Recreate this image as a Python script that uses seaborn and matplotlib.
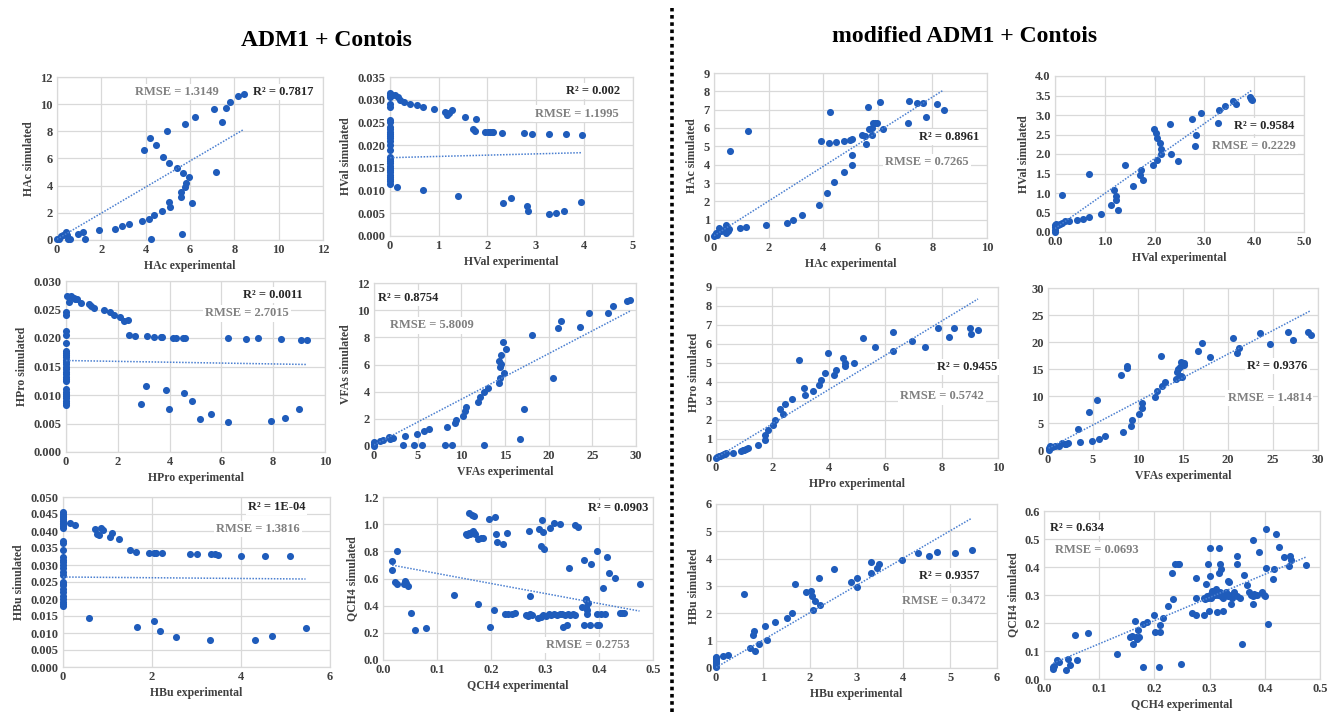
import numpy as np
import pandas as pd
import seaborn as sns
import matplotlib.pyplot as plt
from matplotlib.lines import Line2D
from matplotlib.ticker import FormatStrFormatter

# ---------------- data ----------------
# ADM1 + Contois (left block)
hac_exp_adm = [0.0, 0.1, 0.2, 0.25, 0.4, 0.45, 0.5, 0.6, 0.93, 1.17, 1.28, 1.91, 2.63, 2.92, 3.26, 3.82,
               4.15, 4.38, 4.75, 5.08, 5.07, 6.08, 5.58, 5.58, 5.76, 5.83, 5.95, 5.68, 7.17, 5.43, 5.07,
               4.78, 3.91, 4.45, 4.18, 4.98, 5.79, 7.43, 6.21, 7.10, 7.64, 7.82, 8.18, 8.42, 4.24, 5.64]
hac_sim_adm = [0.1, 0.1, 0.3, 0.35, 0.6, 0.4, 0.1, 0.1, 0.44, 0.57, 0.07, 0.74, 0.84, 1.0, 1.18, 1.40,
               1.57, 1.87, 2.16, 2.46, 2.80, 2.70, 3.20, 3.57, 3.93, 4.23, 4.62, 4.94, 4.99, 5.29, 5.70,
               6.12, 6.59, 7.03, 7.52, 8.02, 8.53, 8.70, 9.07, 9.61, 9.69, 10.16, 10.62, 10.72, 0.07, 0.47]

hval_exp_adm = [0.0, 0.0, 0.0, 0.0, 0.0, 0.0, 0.0, 0.0, 0.0, 0.0, 0.0, 0.0, 0.0, 0.0, 0.0,
                0.0, 0.0, 0.0, 0.0, 0.0, 0.0, 0.0, 0.0, 0.0, 0.0, 0.0, 0.0, 0.0, 0.0,
                0.05, 0.10, 0.17, 0.21, 0.29, 0.42, 0.56, 0.68, 0.91, 1.13, 1.18, 1.22, 1.27, 1.55,
                1.76, 1.71, 1.74, 1.95, 2.02, 2.05, 2.09, 2.12, 2.31, 2.75, 2.93, 3.27, 3.63, 3.95,
                0.15, 0.68, 1.40, 2.32, 2.48, 2.81, 2.84, 3.27, 3.41, 3.58, 3.92]
hval_sim_adm = [0.0315, 0.031, 0.0305, 0.029, 0.0285, 0.0255, 0.025, 0.024, 0.0235, 0.023, 0.0225,
                0.022, 0.0215, 0.021, 0.020, 0.019, 0.0175, 0.017, 0.0165, 0.016, 0.0155, 0.015,
                0.0145, 0.014, 0.0135, 0.013, 0.0125, 0.012, 0.0115,
                0.0310, 0.0311, 0.0306, 0.0299, 0.0295, 0.0291, 0.0289, 0.0284, 0.0280, 0.0274, 0.0267,
                0.0271, 0.0278, 0.0262, 0.0258, 0.0235, 0.0231, 0.0230, 0.0230, 0.0230, 0.0230, 0.0230,
                0.0227, 0.0227, 0.0225, 0.0225, 0.0224, 0.0223,
                0.0107, 0.0101, 0.0089, 0.0073, 0.0084, 0.0065, 0.0055, 0.0049, 0.0050, 0.0056, 0.0074]

hpro_exp_adm = [0.0, 0.0, 0.0, 0.0, 0.0, 0.0, 0.0, 0.0, 0.0, 0.0, 0.0, 0.0, 0.0, 0.0,
                0.0, 0.0, 0.0, 0.0, 0.0, 0.0, 0.0, 0.0, 0.0, 0.0, 0.0, 0.0, 0.0,
                0.04, 0.10, 0.19, 0.30, 0.36, 0.42, 0.58, 0.87, 0.96, 1.07, 1.48, 1.71, 1.86, 2.07,
                2.25, 2.38, 2.44, 2.66, 3.14, 3.39, 3.68, 3.71, 4.15, 4.24, 4.50, 4.60, 6.27, 6.95,
                7.40, 8.30, 9.07, 9.29,
                2.90, 3.10, 3.86, 3.96, 4.56, 4.88, 5.19, 5.59, 6.27, 7.90, 8.46, 9.00]
hpro_sim_adm = [0.0245, 0.024, 0.0212, 0.0205, 0.0192, 0.0178, 0.0174, 0.0170, 0.0166, 0.0162,
                0.0158, 0.0154, 0.0150, 0.0145, 0.0140, 0.0136, 0.0132, 0.0128, 0.0124, 0.0110,
                0.0106, 0.0102, 0.0098, 0.0094, 0.0090, 0.0086, 0.0082,
                0.0274, 0.0264, 0.0273, 0.0271, 0.0269, 0.0268, 0.0261, 0.0259, 0.0257, 0.0253,
                0.0249, 0.0246, 0.0240, 0.0237, 0.0230, 0.0232, 0.0206, 0.0204, 0.0203, 0.0202,
                0.0201, 0.0201, 0.0200, 0.0200, 0.0200, 0.0200, 0.0200, 0.0199, 0.0200, 0.0198,
                0.0197, 0.0197,
                0.0085, 0.0116, 0.0108, 0.0075, 0.0103, 0.0090, 0.0058, 0.0067, 0.0052, 0.0054,
                0.0060, 0.0076]

vfa_exp_adm = [0.0, 0.0, 0.05, 0.65, 1.04, 1.69, 1.88, 2.12, 3.50, 3.27, 4.58, 4.96, 5.46, 5.77,
               6.35, 8.15, 8.35, 8.92, 9.27, 9.38, 10.15, 10.46, 10.50, 11.96, 12.19, 12.65, 13.00,
               12.65, 14.35, 14.46, 14.92, 14.38, 14.50, 14.54, 14.31, 15.12, 14.81, 16.69, 17.12,
               18.04, 20.54, 21.04, 21.38, 23.62, 24.65, 26.85, 27.35, 29.00, 29.30]
vfa_sim_adm = [0.15, 0.30, 0.02, 0.39, 0.47, 0.69, 0.52, 0.61, 0.76, 0.07, 0.07, 0.91, 0.07, 1.08,
               1.25, 0.07, 1.43, 0.07, 1.67, 1.92, 2.19, 2.58, 2.90, 3.22, 3.64, 3.98, 4.30, 0.07,
               4.65, 4.97, 5.38, 5.80, 6.02, 6.69, 6.25, 7.16, 7.65, 0.49, 2.70, 8.14, 5.02, 8.66,
               9.17, 8.78, 9.76, 9.76, 10.30, 10.65, 10.78]

hbu_exp_adm = [0.0, 0.0, 0.0, 0.0, 0.0, 0.0, 0.0, 0.0, 0.0, 0.0, 0.0, 0.0, 0.0, 0.0, 0.0,
               0.0, 0.0, 0.0, 0.0, 0.0, 0.0, 0.0, 0.0, 0.0, 0.0, 0.0, 0.0, 0.0, 0.0, 0.0,
               0.15, 0.27, 0.73, 0.77, 0.82, 0.85, 0.90, 1.06, 1.09, 1.26, 1.50, 1.63, 1.93, 2.04,
               2.10, 2.23, 2.86, 3.02, 3.32, 3.42, 3.49, 3.99, 4.55, 5.11,
               0.58, 1.67, 2.04, 2.19, 2.53, 3.31, 4.31, 4.70, 5.45]
hbu_sim_adm = [0.0455, 0.045, 0.0445, 0.044, 0.0435, 0.043, 0.0425, 0.042, 0.0415, 0.041, 0.037,
               0.0365, 0.0345, 0.0325, 0.0315, 0.031, 0.030, 0.029, 0.028, 0.027, 0.025, 0.0245,
               0.024, 0.023, 0.022, 0.021, 0.020, 0.019, 0.0185, 0.018,
               0.0424, 0.0417, 0.0405, 0.0392, 0.0387, 0.0410, 0.0404, 0.0382, 0.0395, 0.0377,
               0.0343, 0.0338, 0.0334, 0.0334, 0.0335, 0.0335, 0.0332, 0.0332, 0.0331, 0.0331,
               0.0330, 0.0327, 0.0327, 0.0326,
               0.0144, 0.0118, 0.0134, 0.0105, 0.0089, 0.0079, 0.0080, 0.0091, 0.0116]

qch4_exp_adm = [0.017, 0.017, 0.025, 0.023, 0.026, 0.038, 0.041, 0.043, 0.046, 0.052, 0.059, 0.079, 0.131,
                0.153, 0.156, 0.159, 0.162, 0.164, 0.166, 0.168, 0.171, 0.159, 0.164, 0.168, 0.176,
                0.182, 0.185, 0.176,
                0.196, 0.199, 0.206, 0.207, 0.210, 0.212, 0.223, 0.230, 0.225, 0.231, 0.238, 0.244,
                0.271, 0.273, 0.265, 0.268, 0.272, 0.275, 0.289, 0.292, 0.298, 0.294, 0.297,
                0.287, 0.292, 0.297, 0.302, 0.307, 0.312, 0.317, 0.322, 0.327, 0.332, 0.337, 0.342,
                0.347, 0.352, 0.355,
                0.310, 0.317, 0.328, 0.333, 0.340, 0.344, 0.356, 0.362, 0.373, 0.375, 0.376, 0.376,
                0.377, 0.378, 0.373, 0.383, 0.369, 0.380, 0.386, 0.396, 0.400, 0.396, 0.396, 0.403,
                0.412, 0.407, 0.415, 0.419, 0.429, 0.438, 0.443, 0.446, 0.475]
qch4_sim_adm = [0.727, 0.661, 0.803, 0.573, 0.563, 0.558, 0.580, 0.566, 0.544, 0.343, 0.220, 0.233, 0.475,
                0.925, 0.920, 0.935, 0.930, 0.945, 0.950, 0.935, 0.925, 1.080, 1.070, 1.060, 0.890,
                0.900, 0.900, 0.409,
                1.040, 0.245, 0.367, 1.050, 0.930, 0.870, 0.855, 0.935, 0.336, 0.336, 0.336, 0.348,
                0.950, 0.470, 0.330, 0.325, 0.335, 0.330, 0.963, 0.840, 0.820, 1.029, 0.946,
                0.310, 0.320, 0.330, 0.325, 0.335, 0.330, 0.340, 0.330, 0.335, 0.340, 0.330, 0.335,
                0.330, 0.340, 0.330,
                0.972, 1.011, 1.004, 0.245, 0.255, 0.678, 0.997, 0.982, 0.735, 0.450, 0.440, 0.390,
                0.370, 0.340, 0.257, 0.257, 0.387, 0.420, 0.705, 0.257, 0.257, 0.800, 0.336, 0.336,
                0.336, 0.527, 0.760, 0.644, 0.605, 0.343, 0.343, 0.343, 0.556]

# modified ADM1 + Contois (right block)
hac_exp_mod = [0.0, 0.02, 0.09, 0.12, 0.17, 0.24, 0.37, 0.45, 0.45, 0.51, 0.55, 0.60, 0.94, 1.19,
               1.25, 1.92, 2.66, 2.91, 3.23, 3.83, 3.92, 4.15, 4.20, 4.26, 4.38, 4.47, 4.75, 4.76,
               4.99, 5.06, 5.07, 5.07, 5.41, 5.53, 5.58, 5.64, 5.68, 5.78, 5.77, 5.81, 5.90, 5.96,
               6.08, 6.19, 7.09, 7.16, 7.43, 7.64, 7.77, 8.18, 8.41]
hac_sim_mod = [0.09, 0.18, 0.27, 0.18, 0.55, 0.40, 0.42, 0.69, 0.27, 0.36, 0.49, 4.73, 0.55, 0.58,
               5.82, 0.73, 0.82, 0.96, 1.27, 1.78, 5.27, 2.44, 5.18, 6.85, 3.04, 5.22, 3.58, 5.27,
               5.36, 5.40, 4.55, 4.00, 5.64, 5.58, 5.11, 7.15, 5.96, 6.00, 5.64, 6.27, 6.27, 6.27,
               7.40, 5.95, 6.27, 7.49, 7.36, 7.36, 6.62, 7.29, 7.00]

hval_exp_mod = [0.0, 0.0, 0.0, 0.01, 0.03, 0.07, 0.10, 0.15, 0.21, 0.29, 0.15, 0.44, 0.57, 0.68,
                0.68, 0.92, 1.12, 1.19, 1.22, 1.22, 1.27, 1.41, 1.56, 1.71, 1.73, 1.76, 1.97, 1.99,
                2.02, 2.05, 2.04, 2.11, 2.12, 2.12, 2.31, 2.32, 2.47, 2.76, 2.82, 2.84, 2.93, 3.28,
                3.29, 3.42, 3.58, 3.63, 3.92, 3.93, 3.95]
hval_sim_mod = [0.0, 0.06, 0.13, 0.17, 0.21, 0.17, 0.21, 0.24, 0.27, 0.29, 0.95, 0.30, 0.33, 0.39,
                1.49, 0.46, 0.68, 1.08, 0.93, 0.81, 0.57, 1.72, 1.19, 1.47, 1.59, 1.33, 1.72, 2.65,
                2.54, 2.40, 1.85, 2.27, 2.14, 1.99, 2.78, 2.00, 1.81, 2.90, 2.20, 2.50, 3.04, 2.79,
                3.13, 3.24, 3.37, 3.28, 3.47, 3.41, 3.38]

hpro_exp_mod = [0.0, 0.04, 0.09, 0.15, 0.21, 0.27, 0.33, 0.36, 0.60, 0.89, 0.95, 1.00, 1.07, 1.13,
                1.50, 1.72, 1.75, 1.86, 2.03, 2.09, 2.27, 2.39, 2.46, 2.69, 2.94, 3.13, 3.17, 3.43,
                3.67, 3.72, 3.85, 3.97, 4.17, 4.25, 4.51, 4.58, 4.58, 4.89, 5.21, 5.64, 6.27, 6.27,
                6.94, 7.41, 7.88, 8.28, 8.45, 8.99, 9.06, 9.29]
hpro_sim_mod = [0.0, 0.05, 0.09, 0.12, 0.16, 0.19, 0.23, 0.28, 0.26, 0.35, 0.40, 0.44, 0.49, 0.54,
                0.68, 1.19, 0.93, 1.46, 1.75, 2.02, 2.56, 2.32, 2.82, 3.11, 5.14, 3.67, 3.30, 3.53,
                3.82, 4.09, 4.47, 5.53, 4.37, 4.65, 5.28, 5.00, 4.82, 5.00, 6.33, 5.86, 6.63, 5.61,
                6.14, 5.86, 6.84, 6.35, 6.86, 6.82, 6.53, 6.72]

vfa_exp_mod = [0.07, 0.07, 0.19, 0.48, 0.81, 1.19, 1.59, 1.85, 2.04, 2.22, 3.33, 3.52, 4.52, 4.93,
               5.48, 5.67, 6.33, 8.11, 8.30, 8.81, 8.81, 9.19, 9.33, 10.11, 10.44, 10.44, 11.93,
               12.11, 12.59, 12.67, 13.04, 14.26, 14.56, 14.81, 14.33, 14.44, 14.63, 14.81, 14.89,
               15.11, 15.11, 16.70, 17.07, 18.00, 20.52, 21.00, 21.22, 23.52, 24.63, 26.70, 27.22,
               28.89, 29.19]
vfa_sim_mod = [0.0, 0.43, 0.74, 0.62, 0.74, 0.80, 1.24, 1.05, 1.11, 1.24, 3.83, 1.55, 7.11, 1.67,
               9.28, 2.04, 2.60, 13.85, 3.40, 15.58, 15.21, 4.45, 5.57, 6.68, 8.78, 7.73, 9.90,
               10.88, 17.38, 11.87, 12.68, 13.11, 13.48, 13.73, 14.47, 14.97, 15.46, 16.26, 13.54,
               15.65, 16.08, 18.37, 19.79, 17.19, 20.72, 17.93, 18.80, 21.58, 19.60, 21.77, 20.41,
               21.83, 21.34]

hbu_exp_mod = [0.0, 0.0, 0.0, 0.0, 0.0, 0.0, 0.0, 0.0, 0.0, 0.15, 0.26, 0.59, 0.73, 0.79, 0.82,
               0.84, 0.91, 1.05, 1.09, 1.26, 1.51, 1.63, 1.68, 1.93, 2.03, 2.04, 2.07, 2.11, 2.20,
               2.23, 2.52, 2.89, 3.01, 3.02, 3.32, 3.32, 3.43, 3.49, 3.98, 4.32, 4.55, 4.71, 5.11, 5.46]
hbu_sim_mod = [0.02, 0.08, 0.12, 0.18, 0.22, 0.27, 0.32, 0.36, 0.40, 0.43, 0.49, 2.71, 0.73, 1.19,
               1.36, 0.61, 0.88, 1.52, 1.03, 1.68, 1.84, 2.01, 3.06, 2.79, 2.80, 2.63, 2.13, 2.46,
               3.28, 2.29, 3.63, 3.14, 2.96, 3.31, 3.89, 3.49, 3.65, 3.80, 3.95, 4.20, 4.08, 4.26,
               4.20, 4.31]

qch4_exp_mod = [0.017, 0.018, 0.017, 0.024, 0.028, 0.040, 0.044, 0.047, 0.056, 0.060, 0.080, 0.132,
                0.156, 0.159, 0.161, 0.165, 0.167, 0.169, 0.170, 0.173, 0.179, 0.180, 0.186, 0.199,
                0.201, 0.209, 0.211, 0.211, 0.215,
                0.225, 0.231, 0.233, 0.237, 0.242, 0.245, 0.248, 0.269, 0.275, 0.276, 0.275, 0.290,
                0.293, 0.297, 0.299, 0.301, 0.301, 0.304,
                0.314, 0.317, 0.317, 0.318, 0.321, 0.324, 0.333, 0.335, 0.338, 0.350, 0.350, 0.358,
                0.362, 0.367, 0.378, 0.379, 0.389, 0.402, 0.402, 0.406, 0.414, 0.417, 0.420, 0.425,
                0.435, 0.443, 0.446, 0.447, 0.475,
                0.290, 0.292, 0.295, 0.298, 0.300, 0.303, 0.305, 0.308, 0.310, 0.312, 0.315, 0.318,
                0.320, 0.322, 0.325, 0.328, 0.330, 0.333, 0.336, 0.340, 0.345, 0.350, 0.355, 0.372,
                0.375, 0.378, 0.380, 0.383, 0.386, 0.395, 0.398, 0.400]
qch4_sim_mod = [0.037, 0.045, 0.042, 0.067, 0.061, 0.033, 0.072, 0.049, 0.156, 0.069, 0.165, 0.091,
                0.151, 0.154, 0.125, 0.206, 0.149, 0.144, 0.175, 0.149, 0.042, 0.198, 0.203, 0.229,
                0.169, 0.043, 0.194, 0.169, 0.219,
                0.260, 0.380, 0.286, 0.412, 0.411, 0.410, 0.053, 0.234, 0.360, 0.229, 0.289, 0.227,
                0.339, 0.412, 0.244, 0.467, 0.368, 0.315,
                0.239, 0.378, 0.469, 0.412, 0.392, 0.244, 0.350, 0.345, 0.267, 0.438, 0.411, 0.125,
                0.372, 0.336, 0.497, 0.267, 0.453, 0.536, 0.396, 0.196, 0.358, 0.392, 0.517, 0.472,
                0.437, 0.403, 0.438, 0.425, 0.408,
                0.290, 0.285, 0.295, 0.290, 0.300, 0.290, 0.295, 0.310, 0.300, 0.320, 0.300, 0.310,
                0.295, 0.305, 0.290, 0.300, 0.310, 0.295, 0.300, 0.290, 0.310, 0.295, 0.290, 0.310,
                0.300, 0.295, 0.305, 0.300, 0.300, 0.310, 0.300, 0.295]

# trendline (slope, intercept) and the fit labels as printed on the charts
trend_slope_adm = [0.959, 0.000279, -0.000075, 0.336, -0.000108, -0.738]
trend_icpt_adm = [0.06, 0.01724, 0.01605, 0.08, 0.02647, 0.711]
trend_slope_mod = [0.945, 0.897, 0.901, 0.875, 1.0, 0.827]
trend_icpt_mod = [0.125, 0.09, 0.0, 0.27, 0.02, 0.043]
r2_adm = ['0.7817', '0.002', '0.0011', '0.8754', '1E-04', '0.0903']
rmse_adm = ['1.3149', '1.1995', '2.7015', '5.8009', '1.3816', '0.2753']
r2_mod = ['0.8961', '0.9584', '0.9455', '0.9376', '0.9357', '0.634']
rmse_mod = ['0.7265', '0.2229', '0.5742', '1.4814', '0.3472', '0.0693']

# ---------------- style ----------------
sns.set_theme(style='whitegrid')
plt.rcParams['font.family'] = ['Liberation Serif', 'DejaVu Serif']
plt.rcParams['font.weight'] = 'bold'
plt.rcParams['axes.labelweight'] = 'bold'

DOT = '#1f5cbb'
TREND = '#4a7fd0'
GRID = '#d9d9d9'
W, H = 1331, 712

fig = plt.figure(figsize=(13.31, 7.12), dpi=100)


def draw_panel(box, x, y, slope, icpt, r2, rmse, xlab, ylab, xax, yax, r2_pos, rmse_pos):
    x0, y0, x1, y1 = box
    ax = fig.add_axes([x0 / W, 1 - y1 / H, (x1 - x0) / W, (y1 - y0) / H])
    df = pd.DataFrame({'exp': x, 'sim': y})
    sns.scatterplot(data=df, x='exp', y='sim', ax=ax, color=DOT, s=26, linewidth=0,
                    clip_on=False, zorder=3)
    xs = np.array([df['exp'].min(), df['exp'].max()])
    ax.plot(xs, slope * xs + icpt, color=TREND, lw=1.1, ls=(0, (1, 1)), zorder=4)

    xmax, xstep, xfmt = xax
    ymax, ystep, yfmt = yax
    ax.set_xlim(0, xmax)
    ax.set_ylim(0, ymax)
    ax.set_xticks(np.arange(0, xmax + xstep / 2, xstep))
    ax.set_yticks(np.arange(0, ymax + ystep / 2, ystep))
    ax.xaxis.set_major_formatter(FormatStrFormatter(xfmt))
    ax.yaxis.set_major_formatter(FormatStrFormatter(yfmt))
    ax.grid(True, color=GRID, lw=0.9)
    for sp in ax.spines.values():
        sp.set_color(GRID)
        sp.set_linewidth(0.9)
    ax.tick_params(length=0, pad=3, labelsize=9, labelcolor='#404040')
    for lbl in ax.get_xticklabels() + ax.get_yticklabels():
        lbl.set_fontweight('bold')
    ax.set_xlabel(xlab, fontsize=8.5, color='#404040', labelpad=3)
    ax.set_ylabel(ylab, fontsize=8.5, color='#404040', labelpad=4)

    box_kw = dict(facecolor='white', edgecolor='none', pad=1.5)
    ax.text(r2_pos[0], r2_pos[1], 'R² = ' + r2, transform=ax.transAxes, ha='center', va='center',
            fontsize=9, fontweight='bold', color='#262626', bbox=box_kw, zorder=5)
    ax.text(rmse_pos[0], rmse_pos[1], 'RMSE = ' + rmse, transform=ax.transAxes, ha='center',
            va='center', fontsize=9, fontweight='bold', color='#808080', bbox=box_kw, zorder=5)
    return ax


# left block: ADM1 + Contois
draw_panel((57, 77, 323, 240), hac_exp_adm, hac_sim_adm, trend_slope_adm[0], trend_icpt_adm[0],
           r2_adm[0], rmse_adm[0], 'HAc experimental', 'HAc simulated',
           (12, 2, '%d'), (12, 2, '%d'), (0.85, 0.91), (0.45, 0.91))
draw_panel((390, 77, 633, 236), hval_exp_adm, hval_sim_adm, trend_slope_adm[1], trend_icpt_adm[1],
           r2_adm[1], rmse_adm[1], 'HVal experimental', 'HVal simulated',
           (5, 1, '%d'), (0.035, 0.005, '%.3f'), (0.835, 0.91), (0.77, 0.77))
draw_panel((66, 281, 325, 452), hpro_exp_adm, hpro_sim_adm, trend_slope_adm[2], trend_icpt_adm[2],
           r2_adm[2], rmse_adm[2], 'HPro experimental', 'HPro simulated',
           (10, 2, '%d'), (0.030, 0.005, '%.3f'), (0.80, 0.92), (0.70, 0.81))
draw_panel((374, 283, 636, 446), vfa_exp_adm, vfa_sim_adm, trend_slope_adm[3], trend_icpt_adm[3],
           r2_adm[3], rmse_adm[3], 'VFAs experimental', 'VFAs simulated',
           (30, 5, '%d'), (12, 2, '%d'), (0.13, 0.91), (0.22, 0.74))
draw_panel((63, 497, 330, 667), hbu_exp_adm, hbu_sim_adm, trend_slope_adm[4], trend_icpt_adm[4],
           r2_adm[4], rmse_adm[4], 'HBu experimental', 'HBu simulated',
           (6, 2, '%d'), (0.050, 0.005, '%.3f'), (0.80, 0.94), (0.73, 0.81))
draw_panel((383, 497, 653, 660), qch4_exp_adm, qch4_sim_adm, trend_slope_adm[5], trend_icpt_adm[5],
           r2_adm[5], rmse_adm[5], 'QCH4 experimental', 'QCH4 simulated',
           (0.5, 0.1, '%.1f'), (1.2, 0.2, '%.1f'), (0.87, 0.93), (0.76, 0.09))

# right block: modified ADM1 + Contois
draw_panel((714, 73, 987, 238), hac_exp_mod, hac_sim_mod, trend_slope_mod[0], trend_icpt_mod[0],
           r2_mod[0], rmse_mod[0], 'HAc experimental', 'HAc simulated',
           (10, 2, '%d'), (9, 1, '%d'), (0.86, 0.61), (0.78, 0.46))
draw_panel((1055, 76, 1304, 232), hval_exp_mod, hval_sim_mod, trend_slope_mod[1], trend_icpt_mod[1],
           r2_mod[1], rmse_mod[1], 'HVal experimental', 'HVal simulated',
           (5, 1, '%.1f'), (4, 0.5, '%.1f'), (0.84, 0.68), (0.80, 0.55))
draw_panel((716, 287, 998, 458), hpro_exp_mod, hpro_sim_mod, trend_slope_mod[2], trend_icpt_mod[2],
           r2_mod[2], rmse_mod[2], 'HPro experimental', 'HPro simulated',
           (10, 2, '%d'), (9, 1, '%d'), (0.89, 0.53), (0.80, 0.36))
draw_panel((1048, 288, 1318, 450), vfa_exp_mod, vfa_sim_mod, trend_slope_mod[3], trend_icpt_mod[3],
           r2_mod[3], rmse_mod[3], 'VFAs experimental', '',
           (30, 5, '%d'), (30, 5, '%d'), (0.85, 0.52), (0.82, 0.32))
draw_panel((716, 504, 997, 668), hbu_exp_mod, hbu_sim_mod, trend_slope_mod[4], trend_icpt_mod[4],
           r2_mod[4], rmse_mod[4], 'HBu experimental', 'HBu simulated',
           (6, 1, '%d'), (6, 1, '%d'), (0.83, 0.56), (0.81, 0.41))
draw_panel((1044, 511, 1320, 679), qch4_exp_mod, qch4_sim_mod, trend_slope_mod[5], trend_icpt_mod[5],
           r2_mod[5], rmse_mod[5], 'QCH4 experimental', 'QCH4 simulated',
           (0.5, 0.1, '%.1f'), (0.6, 0.1, '%.1f'), (0.12, 0.90), (0.19, 0.77))

# block titles and dotted separator
fig.text(326 / W, 1 - 40 / H, 'ADM1 + Contois', ha='center', va='center', fontsize=17,
         fontweight='bold', color='black')
fig.text(965 / W, 1 - 37 / H, 'modified ADM1 + Contois', ha='center', va='center', fontsize=17,
         fontweight='bold', color='black')
fig.add_artist(Line2D([672 / W, 672 / W], [0.0, 1 - 8 / H], transform=fig.transFigure,
                      color='black', lw=2.6, ls=(0, (1, 1))))

plt.savefig('out.png', dpi=100)
